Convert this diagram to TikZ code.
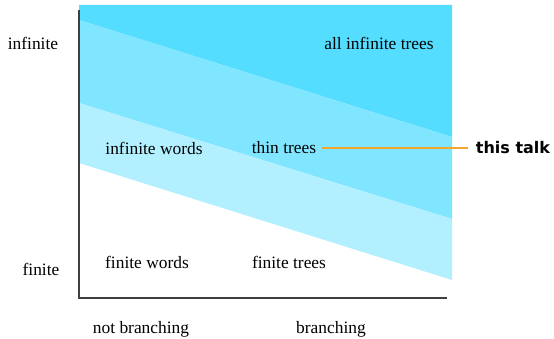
\documentclass[tikz,border=0pt]{standalone}
\usepackage{fontspec}
\setmainfont{Liberation Serif}
\newfontfamily\talkfont{DejaVu Sans}
\begin{document}
\begin{tikzpicture}[x=1pt,y=-1pt,
  lbl/.style={font=\fontsize{17.4}{20}\selectfont, inner sep=0pt},
  axis/.style={draw=black!75, line width=1.3pt},
  talk/.style={draw=orange!80!yellow!90!red, line width=2pt}]
\definecolor{bandA}{RGB}{85,221,255}
\definecolor{bandB}{RGB}{128,229,255}
\definecolor{bandC}{RGB}{179,240,255}
\definecolor{talkc}{RGB}{243,168,45}
\useasboundingbox (0,0) rectangle (554,339);
% bands
\fill[bandA] (79,5) -- (452,5) -- (452,137) -- (79,20) -- cycle;
\fill[bandB] (79,20) -- (452,137) -- (452,219) -- (79,103) -- cycle;
\fill[bandC] (79,103) -- (452,219) -- (452,280) -- (79,163) -- cycle;
% axes
\coordinate (top) at (79,10);
\coordinate (origin) at (79,298);
\coordinate (right) at (447,298);
\draw[axis] (top) -- (origin) -- (right);
% labels
\node[lbl] (inf) at (33,43) {infinite};
\node[lbl] (fin) at (41,269) {finite};
\node[lbl] (ait) at (379,43) {all infinite trees};
\node[lbl] (iw) at (154,148) {infinite words};
\node[lbl, inner xsep=6pt] (tt) at (284,148) {thin trees};
\node[lbl] (fw) at (147,262) {finite words};
\node[lbl] (ft) at (289,262) {finite trees};
\node[lbl] (nb) at (141,329) {not branching};
\node[lbl] (br) at (331,329) {branching};
\node[font=\talkfont\bfseries\fontsize{16}{19}\selectfont, inner sep=0pt, inner xsep=8pt] (tk) at (513,148) {this talk};
\draw[draw=talkc, line width=2pt] (tt.east) -- (tk.west);
\end{tikzpicture}
\end{document}
